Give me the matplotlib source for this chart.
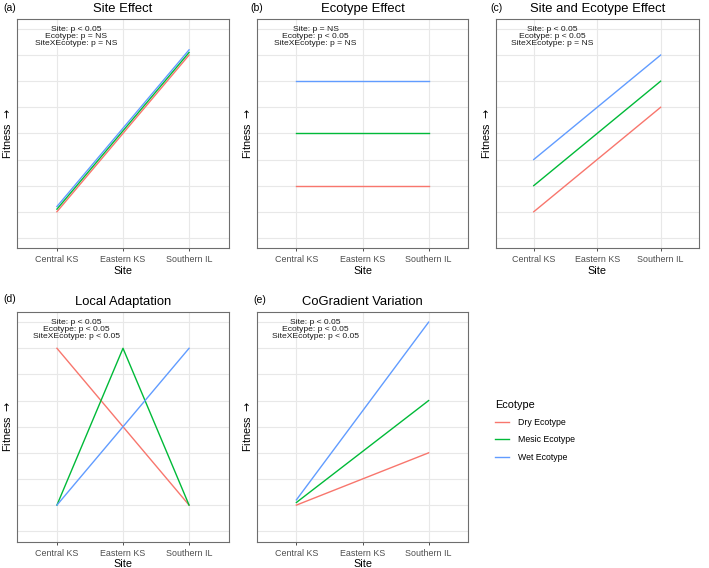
import matplotlib
matplotlib.use('Agg')
import matplotlib.pyplot as plt

plt.rcParams['font.family'] = ['Liberation Sans', 'DejaVu Sans']

# Sites and ecotypes
sites = ['Central KS', 'Eastern KS', 'Southern IL']
ecotypes = ['Dry Ecotype', 'Mesic Ecotype', 'Wet Ecotype']
colors = ['#F8766D', '#00BA38', '#619CFF']

# (a) Site effect
a_dry = [1.0, 4.0, 7.0]
a_mesic = [1.1, 4.1, 7.1]
a_wet = [1.2, 4.2, 7.2]
# (b) Ecotype effect
b_dry = [2, 2, 2]
b_mesic = [4, 4, 4]
b_wet = [6, 6, 6]
# (c) Site and ecotype effect
c_dry = [1, 3, 5]
c_mesic = [2, 4, 6]
c_wet = [3, 5, 7]
# (d) Local adaptation
d_dry = [7, 4, 1]
d_mesic = [1, 7, 1]
d_wet = [1, 4, 7]
# (e) CoGradient variation
e_dry = [1.0, 2.0, 3.0]
e_mesic = [1.1, 3.05, 5.0]
e_wet = [1.2, 4.6, 8.0]

titles = ['Site Effect', 'Ecotype Effect', 'Site and Ecotype Effect',
          'Local Adaptation', 'CoGradient Variation']
letters = ['(a)', '(b)', '(c)', '(d)', '(e)']
notes = ['Site: p < 0.05\nEcotype: p = NS\nSiteXEcotype: p = NS',
         'Site: p = NS\nEcotype: p < 0.05\nSiteXEcotype: p = NS',
         'Site: p < 0.05\nEcotype: p < 0.05\nSiteXEcotype: p = NS',
         'Site: p < 0.05\nEcotype: p < 0.05\nSiteXEcotype: p < 0.05',
         'Site: p < 0.05\nEcotype: p < 0.05\nSiteXEcotype: p < 0.05']
panel_data = [(a_dry, a_mesic, a_wet), (b_dry, b_mesic, b_wet), (c_dry, c_mesic, c_wet),
              (d_dry, d_mesic, d_wet), (e_dry, e_mesic, e_wet)]

W, H = 709, 568
fig = plt.figure(figsize=(W / 100, H / 100), dpi=100)

# panel boxes in pixels: left, top, right, bottom
boxes = [(17.3, 18.5, 228.7, 248.3), (256.7, 18.5, 468.3, 248.3), (495.7, 18.5, 698.7, 248.3),
         (17.3, 311.7, 228.7, 541.7), (256.7, 311.7, 468.3, 541.7)]
letter_pos = [(3.3, 8), (250.7, 8), (490.7, 8), (3.3, 298.5), (253.3, 300)]

x = list(range(1, len(sites) + 1))
axes = []
for i, (l, t, r, b) in enumerate(boxes):
    ax = fig.add_axes([l / W, 1 - b / H, (r - l) / W, (b - t) / H])
    axes.append(ax)
    for vals, col, name in zip(panel_data[i], colors, ecotypes):
        ax.plot(x, vals, color=col, lw=1.0, label=name)
    ax.set_xlim(0.4, 3.6)
    ax.set_ylim(-0.4, 8.4)
    ax.set_xticks(x)
    ax.set_xticklabels(sites, fontsize=6.4, color='#4D4D4D')
    ax.set_yticks(range(0, 9))
    ax.set_yticklabels([])
    ax.tick_params(axis='y', length=0)
    ax.tick_params(axis='x', length=2.4, width=0.6, color='#333333', pad=2.5)
    ax.grid(True, color='#E8E8E8', lw=0.8)
    ax.set_axisbelow(True)
    for s in ax.spines.values():
        s.set_color('#6E6E6E')
        s.set_linewidth(0.8)
    ax.set_title(titles[i], fontsize=9.4, pad=5)
    ax.set_xlabel('Site', fontsize=7.8)
    ax.xaxis.set_label_coords(0.5, -0.075)
    ax.set_ylabel('Fitness $\\rightarrow$', fontsize=7.8)
    ax.yaxis.set_label_coords(-0.018, 0.5)
    ax.text(1.29, 7.7, notes[i], ha='center', va='center', fontsize=6.1,
            linespacing=1.0, color='#1A1A1A')
    fig.text(letter_pos[i][0] / W, 1 - letter_pos[i][1] / H, letters[i],
             ha='left', va='center', fontsize=7.5)

handles, labels = axes[-1].get_legend_handles_labels()
leg = fig.legend(handles, labels, title='Ecotype', loc='upper left',
                 bbox_to_anchor=(487 / W, 1 - 392 / H), frameon=False,
                 fontsize=6.3, title_fontsize=7.8, handlelength=1.6,
                 handletextpad=1.0, labelspacing=0.95, alignment='left')

fig.savefig('out.png', dpi=100)
